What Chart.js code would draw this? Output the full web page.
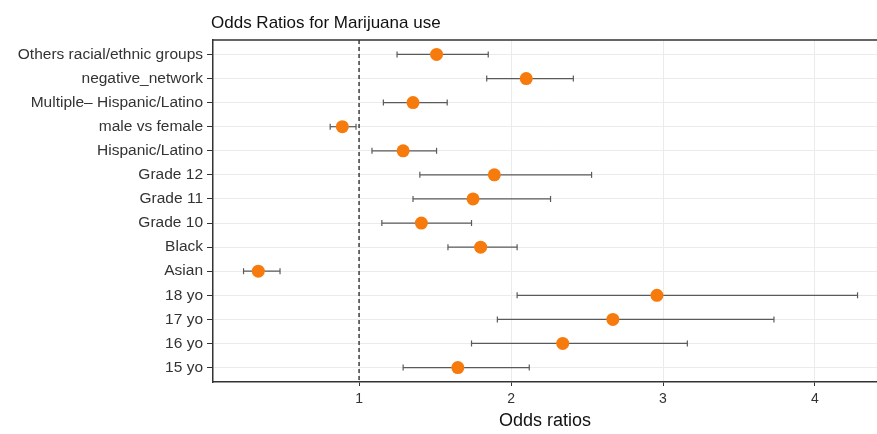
<!DOCTYPE html>
<html>
<head>
<meta charset="utf-8">
<script src="https://cdn.jsdelivr.net/npm/chart.js@4.4.1/dist/chart.umd.min.js"></script>
<style>
  html, body { margin: 0; padding: 0; background: #ffffff; overflow: hidden; }
  #wrap { width: 877px; height: 434px; position: relative; }
</style>
</head>
<body>
<div id="wrap"><canvas id="chart"></canvas></div>
<script>
// Predictors, top to bottom
const categories = [
  "Others racial/ethnic groups",
  "negative_network",
  "Multiple\u2013 Hispanic/Latino",
  "male vs female",
  "Hispanic/Latino",
  "Grade 12",
  "Grade 11",
  "Grade 10",
  "Black",
  "Asian",
  "18 yo",
  "17 yo",
  "16 yo",
  "15 yo"
];
// Odds ratio estimates and 95% confidence limits
const oddsRatio = [1.51, 2.10, 1.355, 0.89, 1.29, 1.89, 1.75, 1.41, 1.80, 0.337, 2.96, 2.67, 2.34, 1.65];
const lowerCI   = [1.25, 1.84, 1.16, 0.81, 1.085, 1.40, 1.355, 1.15, 1.585, 0.24, 2.04, 1.91, 1.74, 1.29];
const upperCI   = [1.85, 2.41, 1.58, 0.98, 1.51, 2.53, 2.26, 1.74, 2.04, 0.48, 4.28, 3.73, 3.16, 2.12];
const xTicks = [1, 2, 3, 4];
const referenceOR = 1;

const titleText = "Odds Ratios for Marijuana use";
const xTitle = "Odds ratios";

const FONT = "'Liberation Sans', Arial, sans-serif";
const yMin = -0.6, yMax = categories.length - 1 + 0.6;

// Confidence interval segments, one per predictor, with capped ends
const ciDatasets = categories.map((c, i) => ({
  type: 'line',
  label: c + ' CI',
  data: [{ x: lowerCI[i], y: i }, { x: upperCI[i], y: i }],
  showLine: true,
  borderColor: '#5a5a5a',
  borderWidth: 1.2,
  pointStyle: 'line',
  rotation: 90,
  pointRadius: 3,
  pointHoverRadius: 3,
  pointBorderColor: '#5a5a5a',
  pointBorderWidth: 1.2,
  order: 2
}));

// Dashed no-effect reference line at OR = 1
const refLine = {
  type: 'line',
  label: 'reference',
  data: [{ x: referenceOR, y: yMin }, { x: referenceOR, y: yMax }],
  showLine: true,
  borderColor: '#222222',
  borderWidth: 1.3,
  borderDash: [4, 3],
  pointRadius: 0,
  order: 3
};

const points = {
  type: 'scatter',
  label: 'Odds ratio',
  data: oddsRatio.map((v, i) => ({ x: v, y: i })),
  backgroundColor: '#F77B0C',
  borderWidth: 0,
  pointRadius: 6.5,
  pointHoverRadius: 6.5,
  order: 1
};

// Panel frame top edge and left-aligned title
const framePlugin = {
  id: 'frame',
  afterDraw(chart) {
    const { ctx, chartArea } = chart;
    ctx.save();
    ctx.strokeStyle = '#333333';
    ctx.lineWidth = 1.5;
    ctx.beginPath();
    ctx.moveTo(chartArea.left, chartArea.top);
    ctx.lineTo(chartArea.right, chartArea.top);
    ctx.stroke();
    ctx.fillStyle = '#111111';
    ctx.font = "17px " + FONT;
    ctx.textBaseline = 'alphabetic';
    ctx.textAlign = 'left';
    ctx.fillText(titleText, chartArea.left - 2, 28);
    ctx.restore();
  }
};

new Chart(document.getElementById('chart'), {
  type: 'scatter',
  data: { datasets: [points, ...ciDatasets, refLine] },
  options: {
    responsive: true,
    maintainAspectRatio: false,
    animation: false,
    layout: { autoPadding: false, padding: { top: 40, left: 0, right: 0, bottom: 0 } },
    plugins: {
      legend: { display: false },
      tooltip: { enabled: false },
      title: { display: false }
    },
    scales: {
      x: {
        type: 'linear',
        min: 0.039,
        max: 4.408,
        afterBuildTicks(scale) { scale.ticks = xTicks.map(v => ({ value: v })); },
        afterFit(scale) { scale.height = 52; scale.paddingLeft = 0; scale.paddingRight = 0; },
        grid: { color: '#ebebeb', lineWidth: 1, tickColor: '#333333', tickLength: 4 },
        border: { display: true, color: '#333333', width: 1.5 },
        ticks: { color: '#333333', font: { family: FONT, size: 14 }, padding: 5 },
        title: { display: true, text: xTitle, color: '#111111', font: { family: FONT, size: 18 }, padding: { top: 0, bottom: 2 } }
      },
      y: {
        type: 'linear',
        reverse: true,
        min: yMin,
        max: yMax,
        afterBuildTicks(scale) { scale.ticks = categories.map((c, i) => ({ value: i })); },
        afterFit(scale) { scale.width = 213; scale.paddingTop = 0; scale.paddingBottom = 0; },
        grid: { color: '#ebebeb', lineWidth: 1, tickColor: '#333333', tickLength: 6 },
        border: { display: true, color: '#333333', width: 1.5 },
        ticks: {
          color: '#333333',
          font: { family: FONT, size: 15.5 },
          padding: 4,
          callback: (v) => categories[v]
        }
      }
    }
  },
  plugins: [framePlugin]
});
</script>
</body>
</html>
